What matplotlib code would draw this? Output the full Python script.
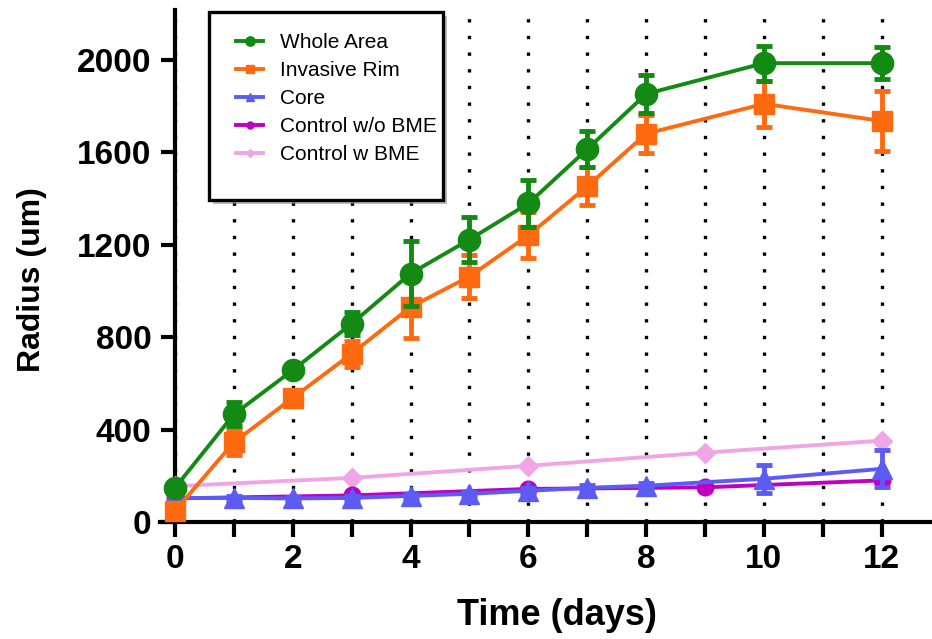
import matplotlib
matplotlib.use("Agg")
import matplotlib.pyplot as plt
from matplotlib.patches import Rectangle
from matplotlib.ticker import MultipleLocator
import matplotlib.patheffects as pe

plt.rcParams["font.family"] = ["Liberation Sans", "DejaVu Sans"]

# Measurements (radius in um) by day
days_main = [0, 1, 2, 3, 4, 5, 6, 7, 8, 10, 12]
whole_area = [148, 466, 657, 858, 1075, 1222, 1378, 1613, 1852, 1985, 1985]
whole_area_err = [15, 52, 20, 50, 140, 98, 100, 78, 82, 75, 68]
invasive_rim = [48, 345, 537, 728, 930, 1062, 1240, 1452, 1680, 1809, 1735]
invasive_rim_err = [15, 55, 30, 57, 135, 92, 100, 82, 82, 98, 130]
core = [104, 104, 102, 104, 113, 122, 135, 148, 157, 187, 230]
core_err = [5, 8, 8, 8, 8, 8, 10, 10, 10, 60, 80]

days_ctrl = [0, 3, 6, 9, 12]
ctrl_no_bme = [102, 115, 143, 150, 180]
ctrl_bme = [155, 191, 243, 300, 352]

labels = ["Whole Area", "Invasive Rim", "Core", "Control w/o BME", "Control w BME"]
colors = ["#138a13", "#ff6a10", "#5c5cf5", "#c000c0", "#f0a6e6"]

W, H = 932, 639
fig = plt.figure(figsize=(W / 100, H / 100), dpi=100)
ax_l, ax_r, ax_b, ax_t = 160, 930, 522, 10
ax = fig.add_axes([ax_l / W, 1 - ax_b / H, (ax_r - ax_l) / W, (ax_b - ax_t) / H])

ax.set_xlim(-0.255, 12.82)
ax.set_ylim(0, 2215)

err_kw = dict(elinewidth=3.5, capsize=6, capthick=3.5, clip_on=False)
handles = {}
h = ax.errorbar(days_ctrl, ctrl_bme, color=colors[4], marker="D", ms=10, lw=2.8,
                zorder=3, clip_on=False)
handles[4] = h.lines[0]
h = ax.errorbar(days_ctrl, ctrl_no_bme, color=colors[3], marker="o", ms=12, lw=2.8,
                zorder=4, clip_on=False)
handles[3] = h.lines[0]
h = ax.errorbar(days_main, core, yerr=core_err, color=colors[2], marker="^", ms=15,
                lw=2.8, zorder=5, **err_kw)
handles[2] = h.lines[0]
h = ax.errorbar(days_main, invasive_rim, yerr=invasive_rim_err, color=colors[1],
                marker="s", ms=15, lw=2.8, zorder=6, **err_kw)
handles[1] = h.lines[0]
h = ax.errorbar(days_main, whole_area, yerr=whole_area_err, color=colors[0],
                marker="o", ms=16, lw=2.8, zorder=7, **err_kw)
handles[0] = h.lines[0]

# Axes styling
for side in ("top", "right"):
    ax.spines[side].set_visible(False)
ax.spines["left"].set_position(("data", 0))
for side in ("left", "bottom"):
    ax.spines[side].set_linewidth(3)

ax.xaxis.set_major_locator(MultipleLocator(2))
ax.xaxis.set_minor_locator(MultipleLocator(1))
ax.set_yticks([0, 400, 800, 1200, 1600, 2000])
ax.set_xticks(range(0, 13, 2))
ax.tick_params(axis="x", which="both", length=11, width=3, direction="out", pad=5,
               labelsize=24)
ax.tick_params(axis="y", which="both", length=10, width=3, direction="out", pad=7,
               labelsize=24)
for t in ax.get_xticklabels() + ax.get_yticklabels():
    t.set_fontweight("bold")

ax.grid(axis="x", which="both", color="black", lw=2.4, ls=(0, (1, 4.0)))
ax.set_axisbelow(True)

ax.set_xlabel("Time (days)", fontsize=26, fontweight="bold")
ax.set_ylabel("Radius (um)", fontsize=23, fontweight="bold")
ax.xaxis.set_label_coords(0.5156, -0.148)
ax.yaxis.set_label_coords(-0.147, 0.473)

# Legend with a boxed frame and drop shadow
box_x0, box_y0, box_x1, box_y1 = 209, 12, 443, 200
frame = Rectangle((box_x0 / W, 1 - box_y1 / H), (box_x1 - box_x0) / W,
                  (box_y1 - box_y0) / H, transform=fig.transFigure,
                  facecolor="white", edgecolor="black", lw=2.4, zorder=20)
frame.set_path_effects([pe.SimplePatchShadow(offset=(3, -3), shadow_rgbFace="0.55",
                                             alpha=0.6), pe.Normal()])
fig.add_artist(frame)

leg = fig.legend([handles[i] for i in range(5)], labels, loc="upper left",
                 bbox_to_anchor=(236 / W, 1 - 33 / H), bbox_transform=fig.transFigure,
                 frameon=False, fontsize=15, handlelength=1.3, handletextpad=0.8,
                 labelspacing=0.43, markerscale=0.42, borderaxespad=0, borderpad=0)
leg.set_zorder(21)

fig.savefig("out.png", dpi=100)
